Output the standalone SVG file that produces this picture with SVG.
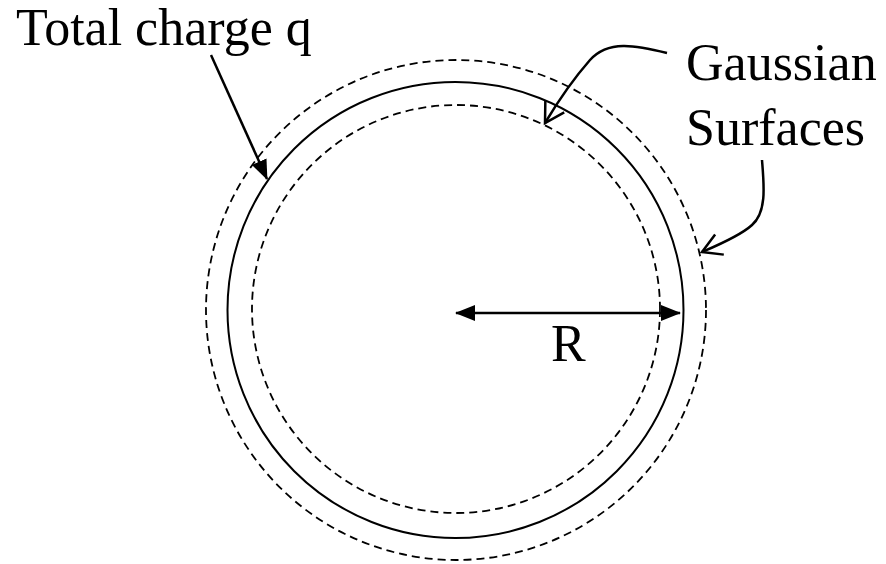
<svg xmlns="http://www.w3.org/2000/svg" width="886" height="564" viewBox="0 0 886 564">
  <style>
    .lbl { font-family: "Liberation Serif", "Times New Roman", serif; font-size: 52px; fill: #000; }
    .solid { fill: none; stroke: #000; stroke-width: 2; }
    .dash { fill: none; stroke: #000; stroke-width: 1.8; stroke-dasharray: 8 5; }
    .conn { fill: none; stroke: #000; stroke-width: 2.5; }
  </style>
  <defs>
    <marker id="filled" viewBox="0 0 20 16" refX="19" refY="8" markerWidth="20" markerHeight="16" markerUnits="userSpaceOnUse" orient="auto-start-reverse">
      <path d="M0,0 L20,8 L0,16 z" fill="#000"/>
    </marker>
    <marker id="open" viewBox="-2 -2 24 26" refX="19" refY="11" markerWidth="24" markerHeight="26" markerUnits="userSpaceOnUse" orient="auto">
      <path d="M0,0 L19,11 L0,22" fill="none" stroke="#000" stroke-width="2.5" stroke-linejoin="miter"/>
    </marker>
  </defs>
  <rect width="886" height="564" fill="#fff"/>

  <g id="outer-gaussian-surface">
    <circle class="dash" cx="456" cy="310" r="250"/>
  </g>
  <g id="charged-shell">
    <circle class="solid" cx="455.5" cy="310" r="228"/>
  </g>
  <g id="inner-gaussian-surface">
    <circle class="dash" cx="456" cy="309" r="204"/>
  </g>

  <g id="label-total-charge">
    <text class="lbl" x="16" y="45">Total charge q</text>
  </g>
  <g id="label-gaussian">
    <text class="lbl" x="686" y="80">Gaussian</text>
    <text class="lbl" x="686" y="145">Surfaces</text>
  </g>
  <g id="label-R">
    <text class="lbl" x="551" y="361">R</text>
  </g>

  <g id="connectors">
    <line class="conn" x1="211" y1="55" x2="267" y2="179" marker-end="url(#filled)"/>
    <line class="conn" x1="456" y1="313" x2="680" y2="313" marker-start="url(#filled)" marker-end="url(#filled)"/>
    <path class="conn" d="M667,53 C635,45 608,40 590,60 C575,77 560,98 545,123" marker-end="url(#open)"/>
    <path class="conn" d="M762,160 C764,185 767,212 752,225 C740,236 716,246 702,252" marker-end="url(#open)"/>
  </g>
</svg>
